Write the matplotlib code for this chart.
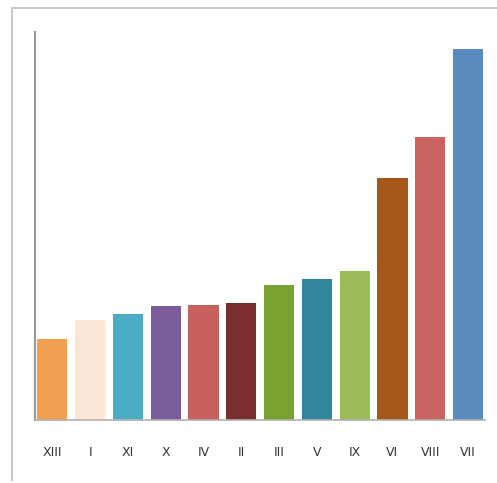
import matplotlib.pyplot as plt
from matplotlib.lines import Line2D

# values (pixel height above the baseline)
labels = ["XIII", "I", "XI", "X", "IV", "II", "III", "V", "IX", "VI", "VIII", "VII"]
values = [81, 100, 106, 114, 115, 117, 135, 141, 149, 242, 283, 371]
colors = ["#F0A050", "#FBE6D6", "#4BACC6", "#7A5C9A", "#C8605E", "#7B2C2C",
          "#77A22F", "#31859C", "#9BBB59", "#A5571A", "#C96360", "#5A8BBE"]

fig = plt.figure(figsize=(4.97, 4.83), dpi=100)
ax = fig.add_axes([0.0704, 0.1304, 0.9054, 0.8033])

x = range(len(labels))
ax.bar(x, values, width=0.8, color=colors)

ax.set_xlim(-0.46, 11.45)
ax.set_ylim(0, 388)
ax.set_xticks(list(x))
ax.set_xticklabels(labels, fontsize=9, color="#333333")
ax.set_yticks([])
ax.tick_params(axis="x", length=0, pad=19)

for s in ["top", "right"]:
    ax.spines[s].set_visible(False)
ax.spines["left"].set_color("#999999")
ax.spines["left"].set_linewidth(1.5)
ax.spines["bottom"].set_color("#B0B0B0")
ax.spines["bottom"].set_linewidth(1.2)

# outer frame (top and left edges)
fig.add_artist(Line2D([12/497, 1.0], [1 - 8/483, 1 - 8/483], transform=fig.transFigure,
                      color="#C8C8C8", linewidth=1.5))
fig.add_artist(Line2D([12/497, 12/497], [1 - 8/483, 1 - 480/483], transform=fig.transFigure,
                      color="#C8C8C8", linewidth=1.5))

plt.savefig("out.png", dpi=100)
